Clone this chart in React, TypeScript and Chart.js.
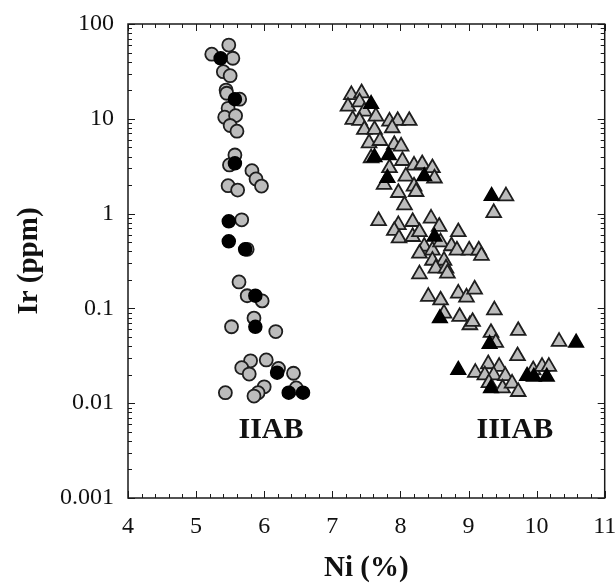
import React, { useEffect, useRef } from "react";
import { Chart, registerables } from "chart.js";

Chart.register(...registerables);

// ---- Axis ticks ----
const xTicks = [4, 5, 6, 7, 8, 9, 10, 11];
const yTicks = [100, 10, 1, 0.1, 0.01, 0.001];
const yTickLabels = ["100", "10", "1", "0.1", "0.01", "0.001"];

// ---- IIAB (circles) ----
const iiabGrayNi = [
  5.48, 5.23, 5.54, 5.40, 5.50, 5.44, 5.45, 5.64, 5.47, 5.42, 5.58, 5.50, 5.60,
  5.57, 5.49, 5.82, 5.88, 5.96, 5.47, 5.61, 5.67, 5.63, 5.75, 5.97, 5.85, 5.52,
  6.17, 6.03, 5.80, 5.67, 5.78, 6.21, 6.43, 5.43, 6.00, 5.91, 5.85, 6.47, 5.75,
];
const iiabGrayIr = [
  60, 48, 43.5, 31.4, 28.5, 20.1, 18.6, 16.1, 12.9, 10.4, 10.8, 8.5, 7.4,
  4.15, 3.26, 2.84, 2.32, 1.95, 1.97, 1.77, 0.86, 0.19, 0.136, 0.12, 0.079, 0.064,
  0.057, 0.0286, 0.028, 0.0237, 0.0203, 0.0233, 0.0207, 0.0129, 0.0149, 0.0129, 0.0119, 0.0145, 0.42,
];
const iiabBlackNi = [5.36, 5.57, 5.57, 5.48, 5.48, 5.72, 5.87, 5.87, 6.19, 6.36, 6.57];
const iiabBlackIr = [43.5, 16.1, 3.39, 0.83, 0.51, 0.42, 0.136, 0.064, 0.021, 0.0129, 0.0129];

// ---- IIIAB (triangles) ----
const iiiabGrayNi = [
  7.28, 7.43, 7.23, 7.40, 7.47, 7.30, 7.40, 7.64, 7.84, 7.96, 8.13, 7.47, 7.62,
  7.88, 7.54, 7.70, 7.91, 8.01, 7.57, 8.03, 7.84, 8.20, 8.32, 8.47, 8.08, 8.20,
  7.76, 8.23, 7.97, 8.06, 8.50, 7.68, 7.97, 8.18, 7.91, 7.98, 8.18, 8.28, 8.45,
  8.57, 8.85, 8.35, 8.28, 8.47, 8.59, 8.75, 8.83, 9.01, 9.15, 9.19, 8.47, 8.64,
  8.52, 8.67, 8.28, 8.69, 9.55, 9.37, 8.41, 8.59, 8.85, 8.97, 9.09, 8.64, 8.87,
  9.02, 9.06, 9.38, 9.33, 9.40, 9.73, 10.33, 9.72, 9.10, 9.29, 9.45, 9.24, 9.37,
  9.54, 9.30, 9.50, 9.64, 9.73, 9.95, 10.08, 10.18,
];
const iiiabGrayIr = [
  17.9, 18.7, 13.5, 15.0, 12.0, 9.8, 9.55, 10.6, 9.4, 9.55, 9.55, 7.67, 7.67,
  8.0, 5.55, 5.87, 5.33, 5.13, 3.86, 3.61, 3.03, 3.23, 3.34, 3.03, 2.47, 1.94,
  2.02, 1.70, 1.66, 1.23, 2.36, 0.84, 0.76, 0.82, 0.66, 0.55, 0.57, 0.64, 0.89,
  0.73, 0.64, 0.45, 0.38, 0.41, 0.50, 0.455, 0.41, 0.41, 0.41, 0.36, 0.32, 0.32,
  0.265, 0.265, 0.23, 0.234, 1.53, 1.02, 0.133, 0.122, 0.144, 0.131, 0.159, 0.0887, 0.0817,
  0.0668, 0.0724, 0.096, 0.0554, 0.0435, 0.0582, 0.0446, 0.0315, 0.021, 0.0259, 0.0243, 0.0198, 0.0198,
  0.0194, 0.0164, 0.0144, 0.0162, 0.0132, 0.0224, 0.0243, 0.0243,
];
const iiiabBlackNi = [7.57, 7.62, 7.83, 7.81, 8.35, 8.50, 9.34, 8.58, 9.31, 10.58, 8.85, 9.33, 9.86, 9.96, 10.15];
const iiiabBlackIr = [14.3, 3.92, 4.12, 2.37, 2.47, 0.57, 1.53, 0.0787, 0.042, 0.0435, 0.0224, 0.0144, 0.0194, 0.019, 0.019];

// ---- Group labels ----
const groupLabels = ["IIAB", "IIIAB"];
const groupLabelNi = [6.1, 9.68];
const groupLabelIr = [0.0052, 0.0052];

const SERIF = '"Liberation Serif", "DejaVu Serif", serif';

const toPoints = (xs: number[], ys: number[]) => xs.map((v, i) => ({ x: v, y: ys[i] }));

const framePlugin = {
  id: "frameTicks",
  afterDraw(chart: any) {
    const { ctx, chartArea, scales } = chart;
    const { left, right, top, bottom } = chartArea;
    const xs = scales.x;
    const ys = scales.y;
    ctx.save();
    ctx.strokeStyle = "#1a1a1a";
    ctx.lineWidth = 1;
    ctx.beginPath();
    for (let i = 0; i <= 35; i++) {
      const v = 4 + i * 0.2;
      const px = Math.round(xs.getPixelForValue(v)) + 0.5;
      const len = i % 5 === 0 ? 7 : 4;
      ctx.moveTo(px, bottom);
      ctx.lineTo(px, bottom - len);
      ctx.moveTo(px, top);
      ctx.lineTo(px, top + len);
    }
    for (let d = -3; d <= 2; d++) {
      for (let m = 1; m <= 9; m++) {
        const v = m * Math.pow(10, d);
        if (v > 100.0001) break;
        const py = Math.round(ys.getPixelForValue(v)) + 0.5;
        const len = m === 1 ? 7 : 4;
        ctx.moveTo(left, py);
        ctx.lineTo(left + len, py);
        ctx.moveTo(right, py);
        ctx.lineTo(right - len, py);
      }
    }
    ctx.stroke();
    ctx.lineWidth = 1.5;
    ctx.strokeRect(left, top, right - left, bottom - top);

    ctx.fillStyle = "#111";
    ctx.font = `bold 30px ${SERIF}`;
    ctx.textAlign = "center";
    ctx.textBaseline = "middle";
    groupLabels.forEach((t, i) => {
      ctx.fillText(t, xs.getPixelForValue(groupLabelNi[i]), ys.getPixelForValue(groupLabelIr[i]));
    });
    ctx.restore();
  },
};

export default function App() {
  const canvasRef = useRef<HTMLCanvasElement | null>(null);

  useEffect(() => {
    const canvas = canvasRef.current;
    if (!canvas) return;
    const gray = "#bcbcbc";
    const edge = "#1e1e1e";
    const chart = new Chart(canvas, {
      type: "scatter",
      data: {
        datasets: [
          {
            label: "IIAB black",
            data: toPoints(iiabBlackNi, iiabBlackIr),
            pointStyle: "circle",
            pointRadius: 6.5,
            backgroundColor: "#000",
            borderColor: "#000",
            borderWidth: 1.5,
          },
          {
            label: "IIIAB black",
            data: toPoints(iiiabBlackNi, iiiabBlackIr),
            pointStyle: "triangle",
            pointRadius: 8.5,
            backgroundColor: "#000",
            borderColor: "#000",
            borderWidth: 1.5,
          },
          {
            label: "IIAB",
            data: toPoints(iiabGrayNi, iiabGrayIr),
            pointStyle: "circle",
            pointRadius: 6.5,
            backgroundColor: gray,
            borderColor: edge,
            borderWidth: 1.8,
          },
          {
            label: "IIIAB",
            data: toPoints(iiiabGrayNi, iiiabGrayIr),
            pointStyle: "triangle",
            pointRadius: 8.5,
            backgroundColor: gray,
            borderColor: edge,
            borderWidth: 1.8,
          },
        ],
      },
      options: {
        animation: false,
        responsive: false,
        events: [],
        layout: { padding: { top: 24, right: 9, left: 0, bottom: 0 } },
        plugins: { legend: { display: false }, tooltip: { enabled: false } },
        scales: {
          x: {
            type: "linear",
            min: 4,
            max: 11,
            grid: { display: false, drawTicks: false },
            border: { display: false },
            afterBuildTicks: (s: any) => {
              s.ticks = xTicks.map((v) => ({ value: v }));
            },
            afterFit: (s: any) => {
              s.height = 89;
              s.paddingLeft = 0;
              s.paddingRight = 0;
            },
            ticks: {
              color: "#111",
              font: { family: SERIF, size: 24 },
              padding: 14,
              maxRotation: 0,
              autoSkip: false,
            },
            title: {
              display: true,
              text: "Ni (%)",
              color: "#111",
              font: { family: SERIF, size: 29, weight: "bold" },
              padding: { top: 0, bottom: 1 },
            },
          },
          y: {
            type: "logarithmic",
            min: 0.001,
            max: 100,
            grid: { display: false, drawTicks: false },
            border: { display: false },
            afterBuildTicks: (s: any) => {
              s.ticks = yTicks.map((v) => ({ value: v }));
            },
            afterFit: (s: any) => {
              s.width = 128;
              s.paddingTop = 0;
              s.paddingBottom = 0;
            },
            ticks: {
              color: "#111",
              font: { family: SERIF, size: 24 },
              padding: 14,
              autoSkip: false,
              callback: (v: any) => {
                const i = yTicks.findIndex((t) => Math.abs(t - Number(v)) / t < 1e-6);
                return i >= 0 ? yTickLabels[i] : "";
              },
            },
            title: {
              display: true,
              text: "Ir (ppm)",
              color: "#111",
              font: { family: SERIF, size: 29, weight: "bold" },
              padding: { top: 12, bottom: 0 },
            },
          },
        },
      },
      plugins: [framePlugin],
    } as any);
    return () => chart.destroy();
  }, []);

  return (
    <div style={{ position: "absolute", left: 0, top: 0, width: 615, height: 587, background: "#fff" }}>
      <canvas ref={canvasRef} width={615} height={587} style={{ width: 615, height: 587, display: "block" }} />
    </div>
  );
}
